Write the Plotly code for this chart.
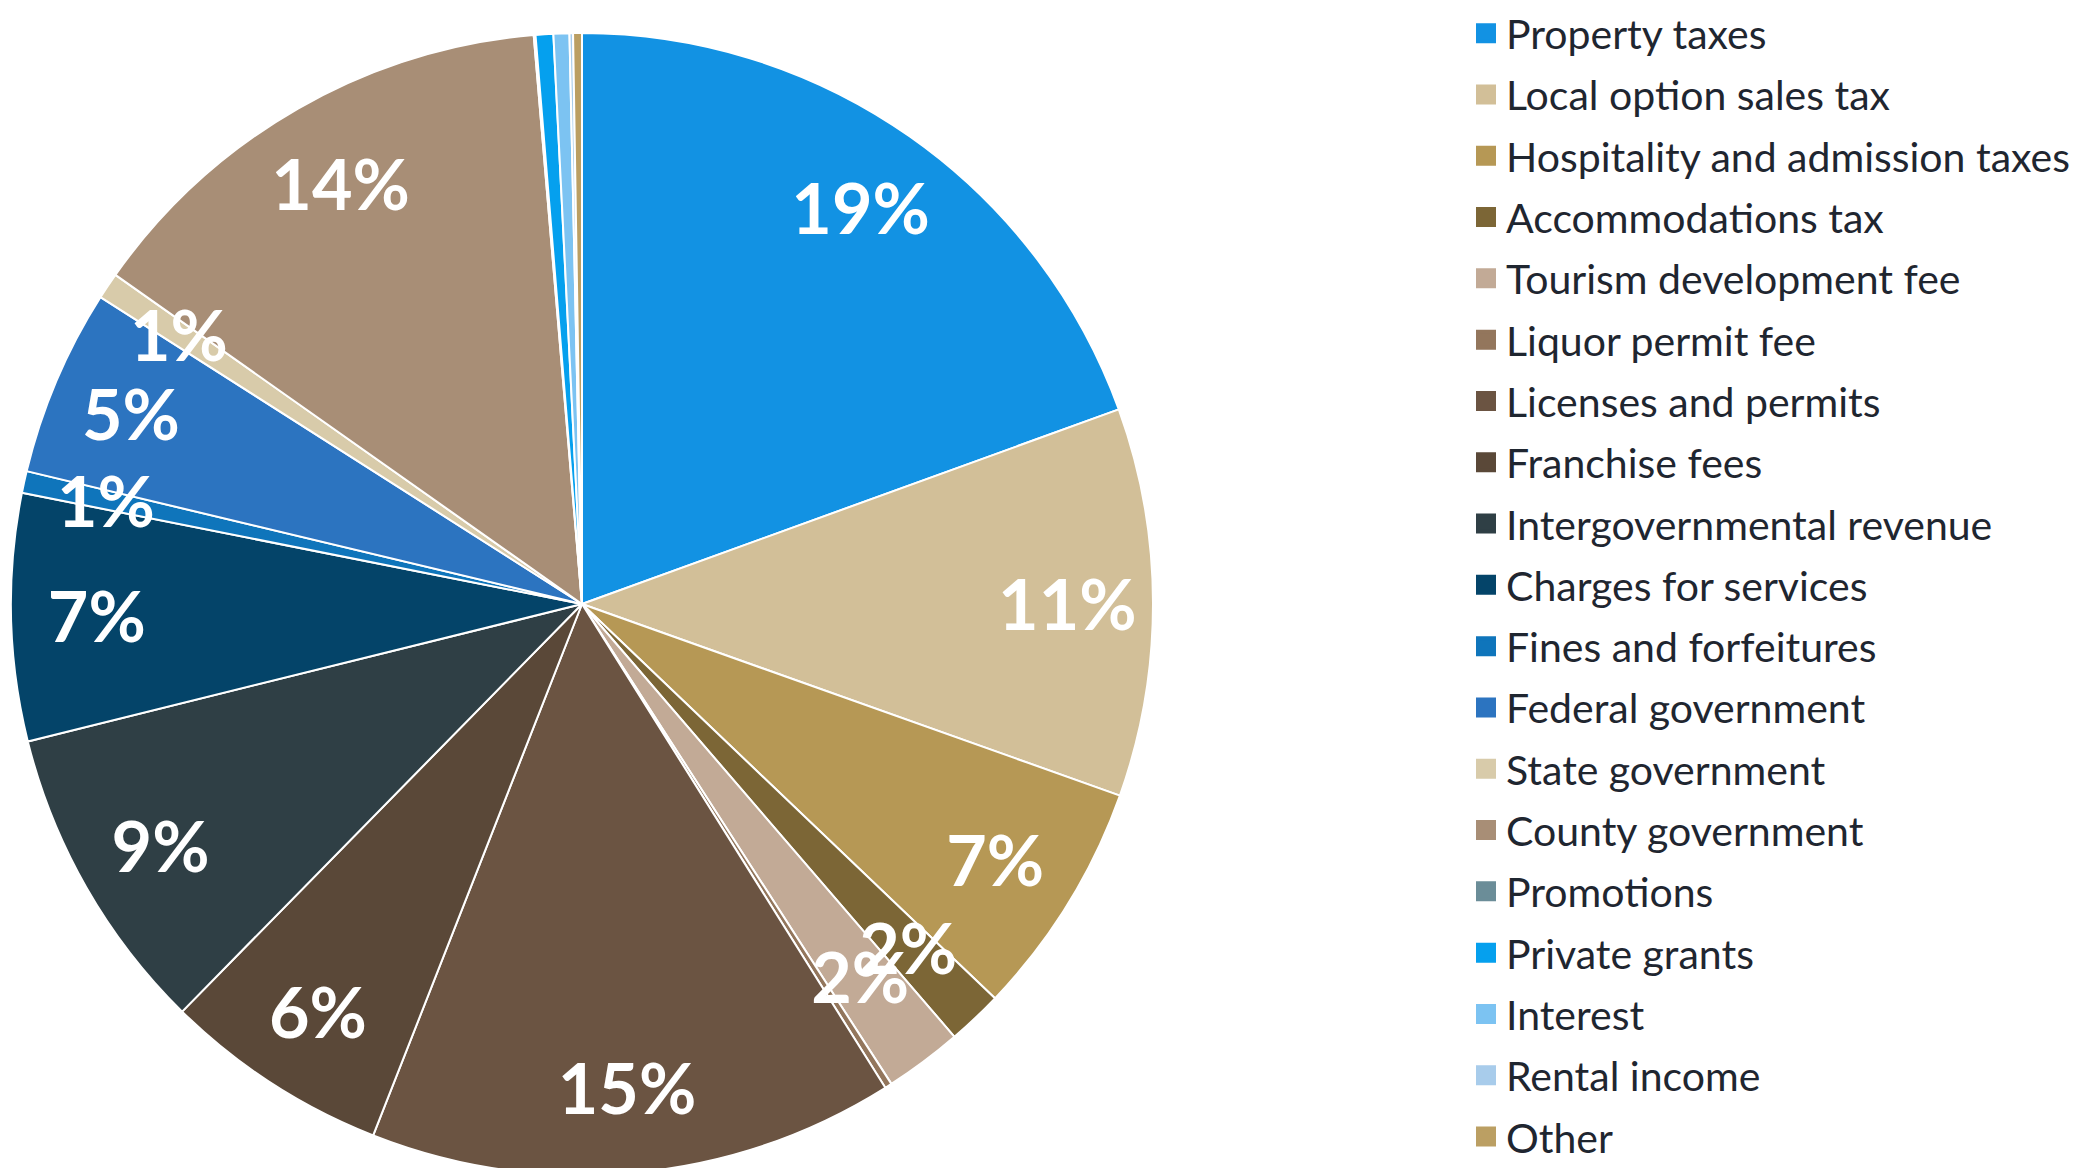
import plotly.graph_objects as go

categories = [
    "Property taxes", "Local option sales tax", "Hospitality and admission taxes",
    "Accommodations tax", "Tourism development fee", "Liquor permit fee",
    "Licenses and permits", "Franchise fees", "Intergovernmental revenue",
    "Charges for services", "Fines and forfeitures", "Federal government",
    "State government", "County government", "Promotions", "Private grants",
    "Interest", "Rental income", "Other",
]
values = [19.5, 11.0, 6.7, 1.56, 2.2, 0.2, 14.9, 6.4, 8.8, 7.0, 0.62, 5.3,
          0.75, 13.9, 0.05, 0.5, 0.45, 0.1, 0.25]
colors = [
    "#1292e3", "#d2bf98", "#b69855", "#7c6636", "#c2aa96", "#93765c",
    "#6b5442", "#5a4838", "#2f3f45", "#044469", "#0f75bb", "#2c74c0",
    "#d8cbaa", "#a88e76", "#6b8d98", "#05a0ee", "#7cc3f2", "#a8cceb",
    "#bb9f63",
]

total = sum(values)
shares = [v / total for v in values]
big_tpl = ["%{percent:.0%}" if s >= 0.03 else "" for s in shares]
small_tpl = ["%{percent:.0%}" if 0.006 <= s < 0.03 else "" for s in shares]

W, H = 2082, 1200
cx, cy, r = 582, 604, 571


def dom(rad):
    return dict(x=[(cx - rad) / W, (cx + rad) / W],
                y=[1 - (cy + rad) / H, 1 - (cy - rad) / H])


label_font = dict(family="Lato", size=70, color="white", weight="bold")
clear = ["rgba(0,0,0,0)"] * len(values)

fig = go.Figure()
# slices
fig.add_trace(go.Pie(
    labels=categories, values=values, sort=False, direction="clockwise",
    rotation=0, marker=dict(colors=colors, line=dict(color="white", width=2)),
    textinfo="none", showlegend=False, hoverinfo="label+percent",
    domain=dom(r),
))
# labels of the large slices, in the outer ring
fig.add_trace(go.Pie(
    labels=categories, values=values, sort=False, direction="clockwise",
    rotation=0, hole=0.7, marker=dict(colors=clear, line=dict(width=0)),
    texttemplate=big_tpl, textposition="inside",
    insidetextorientation="horizontal", textfont=label_font,
    showlegend=False, hoverinfo="skip", domain=dom(r),
))
# labels of the thin slices
fig.add_trace(go.Pie(
    labels=categories, values=values, sort=False, direction="clockwise",
    rotation=0, hole=0.6, marker=dict(colors=clear, line=dict(width=0)),
    texttemplate=small_tpl, textposition="inside",
    insidetextorientation="horizontal", textfont=label_font,
    showlegend=False, hoverinfo="skip", domain=dom(0.87 * r),
))

for name, col in zip(categories, colors):
    fig.add_trace(go.Scatter(
        x=[None], y=[None], mode="markers", name=name, legendgroup=name,
        marker=dict(symbol="square", size=16, color=col,
                    line=dict(color=col, width=4)),
        showlegend=True,
    ))

fig.update_layout(
    width=W, height=H,
    margin=dict(l=0, r=0, t=0, b=0),
    paper_bgcolor="white", plot_bgcolor="white",
    xaxis=dict(visible=False), yaxis=dict(visible=False),
    uniformtext=dict(minsize=70, mode="show"),
    legend=dict(
        x=1466 / W, xanchor="left", y=1.0, yanchor="top",
        font=dict(family="Lato", size=41, color="#1f2630"),
        traceorder="grouped", tracegroupgap=5,
        bgcolor="rgba(0,0,0,0)", borderwidth=0,
    ),
    font=dict(family="Lato"),
)

fig.write_html("out.html", config={"displayModeBar": False},
               post_script="document.body.style.margin='0px';")
